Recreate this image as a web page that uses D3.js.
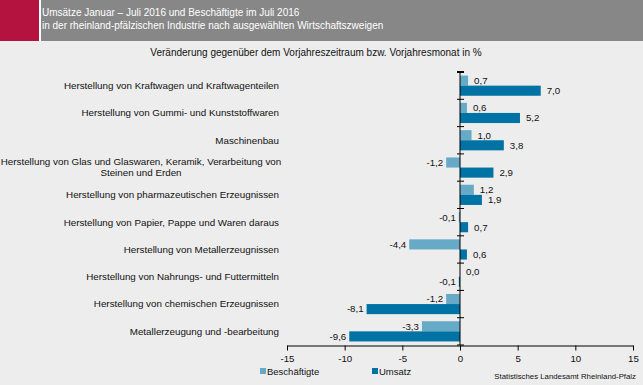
<!DOCTYPE html>
<html>
<head>
<meta charset="utf-8">
<script src="https://cdn.jsdelivr.net/npm/d3@7"></script>
<style>
  body { margin: 0; background: #ededed; }
  svg { display: block; font-family: "Liberation Sans", Arial, sans-serif; }
</style>
</head>
<body>
<svg id="chart" width="643" height="385"></svg>
<script>
// categories (top to bottom), two-line labels split by "|"
const categories = [
    "Herstellung von Kraftwagen und Kraftwagenteilen",
    "Herstellung von Gummi- und Kunststoffwaren",
    "Maschinenbau",
    "Herstellung von Glas und Glaswaren, Keramik, Verarbeitung von|Steinen und Erden",
    "Herstellung von pharmazeutischen Erzeugnissen",
    "Herstellung von Papier, Pappe und Waren daraus",
    "Herstellung von Metallerzeugnissen",
    "Herstellung von Nahrungs- und Futtermitteln",
    "Herstellung von chemischen Erzeugnissen",
    "Metallerzeugung und -bearbeitung"
];
const beschaeftigte = [0.7, 0.6, 1.0, -1.2, 1.2, -0.1, -4.4, 0.0, -1.2, -3.3];
const umsatz = [7.0, 5.2, 3.8, 2.9, 1.9, 0.7, 0.6, -0.1, -8.1, -9.6];
const seriesNames = ["Beschäftigte", "Umsatz"];
const xTicks = [-15, -10, -5, 0, 5, 10, 15];

const colors = { "Beschäftigte": "#66aac8", "Umsatz": "#0072a3" };
const fmt = v => d3.format(".1f")(v).replace(".", ",").replace("−", "-");

const svg = d3.select("#chart");

// header band
svg.append("rect").attr("x", 0).attr("y", 0).attr("width", 643).attr("height", 41).attr("fill", "#878787");
svg.append("rect").attr("x", 0).attr("y", 0).attr("width", 39).attr("height", 41).attr("fill", "#b5133f");
svg.append("rect").attr("x", 39).attr("y", 0).attr("width", 2).attr("height", 41).attr("fill", "#ffffff");
svg.append("text").attr("x", 42).attr("y", 16).attr("fill", "#fff").attr("font-size", 10)
    .text("Umsätze Januar – Juli 2016 und Beschäftigte im Juli 2016");
svg.append("text").attr("x", 42).attr("y", 29).attr("fill", "#fff").attr("font-size", 10)
    .text("in der rheinland-pfälzischen Industrie nach ausgewählten Wirtschaftszweigen");

svg.append("text").attr("x", 316).attr("y", 56).attr("text-anchor", "middle")
    .attr("font-size", 10).attr("fill", "#111")
    .text("Veränderung gegenüber dem Vorjahreszeitraum bzw. Vorjahresmonat in %");

const x = d3.scaleLinear().domain([-15, 15]).range([287, 633]);
const y = d3.scaleBand().domain(categories).range([72, 345]).paddingInner(0.26).paddingOuter(0.13);
const ySub = d3.scaleBand().domain(seriesNames).range([0, y.bandwidth()]);

const rows = categories.map((c, i) => ({ cat: c, values: [
    { key: "Beschäftigte", v: beschaeftigte[i] },
    { key: "Umsatz", v: umsatz[i] }
]}));

const g = svg.append("g");
const groups = g.selectAll(".row").data(rows).enter().append("g")
    .attr("transform", d => `translate(0,${y(d.cat)})`);

groups.selectAll("rect").data(d => d.values).enter().append("rect")
    .attr("x", d => x(Math.min(0, d.v)))
    .attr("y", d => ySub(d.key))
    .attr("width", d => Math.abs(x(d.v) - x(0)))
    .attr("height", ySub.bandwidth())
    .attr("fill", d => colors[d.key]);

groups.selectAll("text").data(d => d.values).enter().append("text")
    .attr("x", d => d.v < 0 ? x(d.v) - 3 : x(d.v) + 6)
    .attr("y", d => ySub(d.key) + ySub.bandwidth() / 2)
    .attr("dy", "0.35em")
    .attr("text-anchor", d => d.v < 0 ? "end" : "start")
    .attr("font-size", 9.7).attr("fill", "#111")
    .text(d => fmt(d.v));

// category labels
const labels = svg.append("g");
categories.forEach(c => {
    const lines = c.split("|");
    const cy = y(c) + y.bandwidth() / 2;
    const t = labels.append("text").attr("font-size", 9.8).attr("fill", "#111")
        .attr("text-anchor", lines.length > 1 ? "middle" : "end");
    lines.forEach((l, i) => {
        t.append("tspan")
            .attr("x", lines.length > 1 ? 141 : 279)
            .attr("y", cy + (i - (lines.length - 1) / 2) * 11)
            .attr("dy", "0.35em")
            .text(l);
    });
});

// y axis (zero line with ticks between categories)
const yAxisG = svg.append("g");
yAxisG.append("line").attr("x1", x(0)).attr("x2", x(0)).attr("y1", 72).attr("y2", 345)
    .attr("stroke", "#000").attr("stroke-width", 1);
d3.range(categories.length + 1).forEach(i => {
    const ty = 72 + i * y.step();
    yAxisG.append("line").attr("x1", x(0) - 3).attr("x2", x(0) + 4).attr("y1", ty).attr("y2", ty)
        .attr("stroke", "#000").attr("stroke-width", i === 0 ? 2 : 1);
});

// x axis
const xAxis = d3.axisBottom(x).tickValues(xTicks).tickSize(5).tickSizeOuter(0)
    .tickFormat(d => String(d).replace("−", "-"));
const xg = svg.append("g").attr("transform", "translate(0,345.5)").call(xAxis);
xg.select(".domain").attr("stroke", "#000");
xg.selectAll("line").attr("stroke", "#000");
xg.selectAll("text").attr("font-size", 9.7).attr("fill", "#111")
    .attr("font-family", "Liberation Sans, Arial, sans-serif").attr("dy", "0.9em");

// legend
const legend = svg.append("g");
const legendX = [260, 372];
seriesNames.forEach((s, i) => {
    legend.append("rect").attr("x", legendX[i]).attr("y", 368).attr("width", 6).attr("height", 6)
        .attr("fill", colors[s]);
    legend.append("text").attr("x", legendX[i] + 7).attr("y", 374.5).attr("font-size", 9.5)
        .attr("fill", "#111").text(s);
});

svg.append("text").attr("x", 636).attr("y", 379).attr("text-anchor", "end")
    .attr("font-size", 7.8).attr("fill", "#111")
    .text("Statistisches Landesamt Rheinland-Pfalz");
</script>
</body>
</html>
